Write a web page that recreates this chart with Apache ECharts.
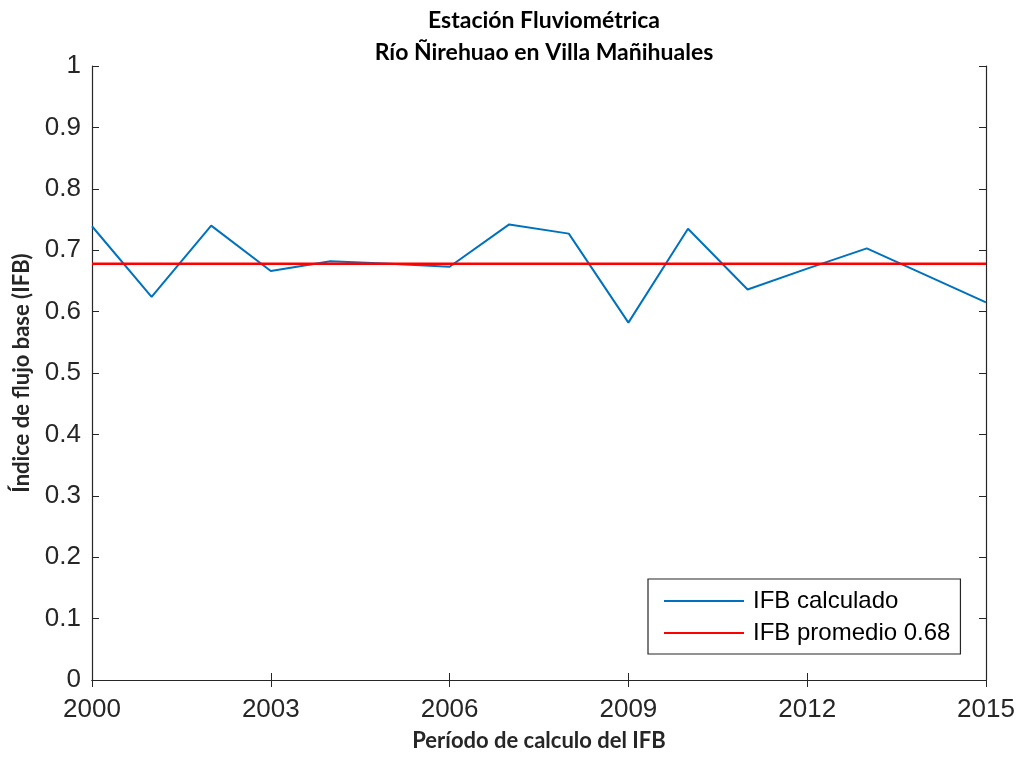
<!DOCTYPE html>
<html>
<head>
<meta charset="utf-8">
<script src="https://cdn.jsdelivr.net/npm/echarts@6/dist/echarts.min.js"></script>
<style>
html,body{margin:0;padding:0;background:#fff;}
#container1{width:1021px;height:757px;}
</style>
</head>
<body>
<div id="container1"></div>
<script>
// datos
var years = ['2000','2001','2002','2003','2004','2005','2006','2007','2008','2009','2010','2011','2012','2013','2014','2015'];
var ifbCalculado = [0.739, 0.624, 0.740, 0.666, 0.682, 0.678, 0.673, 0.742, 0.727, 0.582, 0.735, 0.636, 0.670, 0.703, 0.659, 0.615];
var ifbPromedio = 0.678;
var yTicks = {min: 0, max: 1, interval: 0.1};

var promedioLine = years.map(function(){ return ifbPromedio; });

var myChart = echarts.init(document.getElementById('container1'));
var axisColor = '#262626';
var tickFont = 'Liberation Sans, Arial, sans-serif';
var boldFont = 'Lato, Noto Sans, sans-serif';

var option = {
    backgroundColor: '#fff',
    animation: false,
    title: {
        text: 'Estación Fluviométrica\nRío Ñirehuao en Villa Mañihuales',
        left: 539, top: 0, textAlign: 'center',
        textStyle: {fontFamily: boldFont, fontWeight: 'bold', fontSize: 23, lineHeight: 32, color: '#000'}
    },
    grid: {left: 92, right: 35, top: 66, bottom: 75},
    legend: {
        orient: 'vertical',
        left: 648, top: 579,
        padding: [10, 10, 9, 15],
        itemGap: 8,
        itemWidth: 80, itemHeight: 14,
        backgroundColor: '#fff',
        borderColor: axisColor, borderWidth: 1.2, borderRadius: 0,
        itemStyle: {opacity: 0},
        textStyle: {fontFamily: tickFont, fontSize: 24, color: '#000', lineHeight: 24, padding: [0, 0, 0, 4]},
        data: ['IFB calculado', 'IFB promedio 0.68']
    },
    xAxis: [
        {
            type: 'category', data: years, boundaryGap: false,
            name: 'Período de calculo del IFB', nameLocation: 'middle', nameGap: 50,
            nameTextStyle: {fontFamily: boldFont, fontWeight: 'bold', fontSize: 22, color: axisColor},
            axisLine: {lineStyle: {color: axisColor, width: 1.2}},
            axisTick: {inside: true, length: 7, interval: 2, lineStyle: {color: axisColor}},
            axisLabel: {interval: 2, fontFamily: tickFont, fontSize: 26, color: axisColor, margin: 17},
            splitLine: {show: false}
        },
        {
            type: 'category', data: years, boundaryGap: false, position: 'top',
            axisLine: {lineStyle: {color: axisColor, width: 1.2}},
            axisTick: {inside: true, length: 7, interval: 2, lineStyle: {color: axisColor}},
            axisLabel: {show: false}, splitLine: {show: false}
        }
    ],
    yAxis: [
        {
            type: 'value', min: yTicks.min, max: yTicks.max, interval: yTicks.interval,
            name: 'Índice de flujo base (IFB)', nameLocation: 'middle', nameGap: 59,
            nameTextStyle: {fontFamily: boldFont, fontWeight: 'bold', fontSize: 22, color: axisColor},
            axisLine: {show: true, lineStyle: {color: axisColor, width: 1.2}},
            axisTick: {show: true, inside: true, length: 7, lineStyle: {color: axisColor}},
            axisLabel: {fontFamily: tickFont, fontSize: 26, color: axisColor, margin: 11,
                formatter: function(v){ return String(Math.round(v * 10) / 10); }},
            splitLine: {show: false}
        },
        {
            type: 'value', min: yTicks.min, max: yTicks.max, interval: yTicks.interval, position: 'right',
            axisLine: {show: true, lineStyle: {color: axisColor, width: 1.2}},
            axisTick: {show: true, inside: true, length: 7, lineStyle: {color: axisColor}},
            axisLabel: {show: false}, splitLine: {show: false}
        }
    ],
    series: [
        {
            name: 'IFB calculado', type: 'line', data: ifbCalculado,
            symbol: 'none', color: '#0072BD',
            lineStyle: {color: '#0072BD', width: 2}, z: 2
        },
        {
            name: 'IFB promedio 0.68', type: 'line', data: promedioLine,
            symbol: 'none', color: '#FF0000',
            lineStyle: {color: '#FF0000', width: 2.5}, z: 3
        }
    ]
};
myChart.setOption(option, true);
</script>
</body>
</html>
